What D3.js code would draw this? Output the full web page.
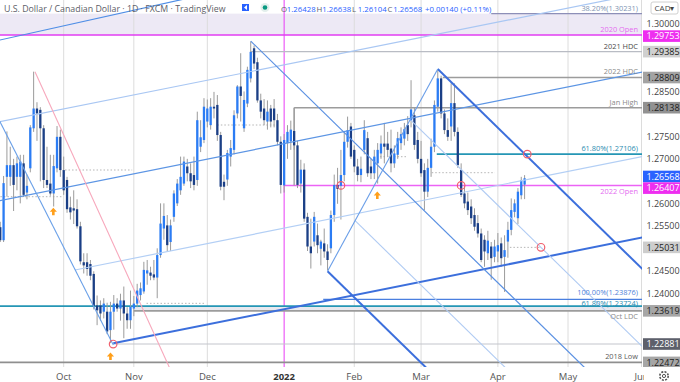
<!DOCTYPE html>
<html>
<head>
<meta charset="utf-8">
<script src="https://cdn.jsdelivr.net/npm/d3@7"></script>
<style>
  body { margin: 0; background: #fff; }
  svg { display: block; font-family: "Open Sans", "Noto Sans", sans-serif; }
</style>
</head>
<body>
<svg id="chart" width="680" height="382"></svg>
<script>
// daily USD/CAD bars, one per weekday from Mon 6 Sep 2021 to Wed 13 Apr 2022
const opens = [
  1.2548, 1.2519, 1.2660, 1.2660, 1.2686, 1.2660, 1.2660, 1.2690, 1.2625, 1.2679,
  1.2768, 1.2812, 1.2809, 1.2768, 1.2653, 1.2645, 1.2623, 1.2679, 1.2749, 1.2675,
  1.2653, 1.2592, 1.2590, 1.2588, 1.2550, 1.2470, 1.2470, 1.2466, 1.2444, 1.2374,
  1.2374, 1.2360, 1.2360, 1.2319, 1.2360, 1.2378, 1.2367, 1.2385, 1.2356, 1.2341,
  1.2367, 1.2378, 1.2397, 1.2405, 1.2445, 1.2447, 1.2443, 1.2436, 1.2486, 1.2545,
  1.2552, 1.2515, 1.2571, 1.2601, 1.2630, 1.2645, 1.2683, 1.2668, 1.2664, 1.2653,
  1.2727, 1.2742, 1.2783, 1.2775, 1.2816, 1.2820, 1.2753, 1.2649, 1.2654, 1.2705,
  1.2720, 1.2801, 1.2861, 1.2768, 1.2823, 1.2879, 1.2946, 1.2915, 1.2830, 1.2812,
  1.2783, 1.2812, 1.2812, 1.2786, 1.2738, 1.2641, 1.2735, 1.2739, 1.2762, 1.2730,
  1.2645, 1.2676, 1.2571, 1.2505, 1.2516, 1.2530, 1.2500, 1.2512, 1.2494, 1.2501,
  1.2575, 1.2642, 1.2640, 1.2664, 1.2738, 1.2772, 1.2720, 1.2683, 1.2664, 1.2720,
  1.2746, 1.2683, 1.2668, 1.2690, 1.2712, 1.2734, 1.2734, 1.2723, 1.2690, 1.2709,
  1.2735, 1.2745, 1.2775, 1.2785, 1.2797, 1.2742, 1.2700, 1.2675, 1.2627, 1.2680,
  1.2727, 1.2816, 1.2879, 1.2801, 1.2764, 1.2772, 1.2824, 1.2760, 1.2675, 1.2623,
  1.2605, 1.2594, 1.2575, 1.2557, 1.2534, 1.2520, 1.2490, 1.2505, 1.2482, 1.2494,
  1.2512, 1.2482, 1.2516, 1.2542, 1.2582, 1.2568, 1.2619, 1.26428
];
const highs = [
  1.2560, 1.2662, 1.2761, 1.2727, 1.2700, 1.2705, 1.2709, 1.2709, 1.2665, 1.2775,
  1.2894, 1.2826, 1.2815, 1.2775, 1.2727, 1.2709, 1.2709, 1.2773, 1.2765, 1.2705,
  1.2660, 1.2616, 1.2630, 1.2610, 1.2560, 1.2490, 1.2490, 1.2475, 1.2450, 1.2396,
  1.2385, 1.2390, 1.2380, 1.2382, 1.2397, 1.2390, 1.2400, 1.2416, 1.2370, 1.2407,
  1.2395, 1.2422, 1.2425, 1.2471, 1.2475, 1.2460, 1.2475, 1.2501, 1.2601, 1.2601,
  1.2575, 1.2565, 1.2630, 1.2655, 1.2705, 1.2705, 1.2700, 1.2690, 1.2705, 1.2805,
  1.2786, 1.2835, 1.2832, 1.2835, 1.2849, 1.2842, 1.2760, 1.2665, 1.2720, 1.2742,
  1.2808, 1.2864, 1.2935, 1.2850, 1.2905, 1.2961, 1.2952, 1.2925, 1.2845, 1.2833,
  1.2830, 1.2820, 1.2833, 1.2800, 1.2750, 1.2755, 1.2775, 1.2785, 1.2814, 1.2740,
  1.2698, 1.2690, 1.2580, 1.2567, 1.2582, 1.2556, 1.2520, 1.2545, 1.2510, 1.2585,
  1.2665, 1.2680, 1.2720, 1.2760, 1.2794, 1.2780, 1.2730, 1.2700, 1.2705, 1.2786,
  1.2760, 1.2700, 1.2720, 1.2735, 1.2752, 1.2780, 1.2760, 1.2765, 1.2730, 1.2760,
  1.2770, 1.2780, 1.2795, 1.2875, 1.2815, 1.2760, 1.2740, 1.2690, 1.2700, 1.2745,
  1.2830, 1.2898, 1.2885, 1.2810, 1.2790, 1.2868, 1.2868, 1.2770, 1.2690, 1.2640,
  1.2625, 1.2610, 1.2590, 1.2575, 1.2545, 1.2530, 1.2540, 1.2515, 1.2520, 1.2535,
  1.2525, 1.2530, 1.2560, 1.2612, 1.2610, 1.2635, 1.2660, 1.26638
];
const lows = [
  1.2515, 1.2515, 1.2616, 1.2640, 1.2584, 1.2630, 1.2601, 1.2615, 1.2610, 1.2670,
  1.2760, 1.2740, 1.2650, 1.2635, 1.2635, 1.2618, 1.2594, 1.2670, 1.2660, 1.2620,
  1.2580, 1.2565, 1.2555, 1.2545, 1.2465, 1.2445, 1.2440, 1.2430, 1.2365, 1.2330,
  1.2340, 1.2345, 1.2310, 1.2290, 1.2320, 1.2360, 1.2340, 1.2301, 1.2322, 1.2322,
  1.2350, 1.2370, 1.2385, 1.2400, 1.2420, 1.2430, 1.2430, 1.2390, 1.2480, 1.2520,
  1.2495, 1.2495, 1.2560, 1.2595, 1.2620, 1.2640, 1.2650, 1.2635, 1.2630, 1.2640,
  1.2715, 1.2735, 1.2770, 1.2765, 1.2790, 1.2740, 1.2630, 1.2608, 1.2640, 1.2683,
  1.2710, 1.2790, 1.2783, 1.2760, 1.2815, 1.2870, 1.2900, 1.2825, 1.2790, 1.2775,
  1.2765, 1.2770, 1.2770, 1.2730, 1.2623, 1.2625, 1.2700, 1.2720, 1.2720, 1.2635,
  1.2625, 1.2560, 1.2495, 1.2456, 1.2505, 1.2490, 1.2463, 1.2480, 1.2452, 1.2490,
  1.2560, 1.2600, 1.2565, 1.2650, 1.2725, 1.2700, 1.2670, 1.2650, 1.2648, 1.2710,
  1.2660, 1.2655, 1.2655, 1.2645, 1.2700, 1.2690, 1.2705, 1.2670, 1.2680, 1.2700,
  1.2720, 1.2730, 1.2740, 1.2770, 1.2720, 1.2690, 1.2660, 1.2586, 1.2615, 1.2660,
  1.2715, 1.2805, 1.2790, 1.2755, 1.2740, 1.2740, 1.2750, 1.2680, 1.2615, 1.2590,
  1.2575, 1.2555, 1.2540, 1.2525, 1.2470, 1.2460, 1.2475, 1.2431, 1.2470, 1.2470,
  1.2460, 1.2404, 1.2480, 1.2530, 1.2570, 1.2555, 1.2610, 1.26104
];
const closes = [
  1.2519, 1.2646, 1.2686, 1.2686, 1.2642, 1.2690, 1.2694, 1.2620, 1.2640, 1.2770,
  1.2812, 1.2801, 1.2768, 1.2653, 1.2642, 1.2623, 1.2684, 1.2749, 1.2675, 1.2630,
  1.2588, 1.2581, 1.2585, 1.2550, 1.2472, 1.2463, 1.2455, 1.2440, 1.2373, 1.2363,
  1.2356, 1.2378, 1.2316, 1.2360, 1.2378, 1.2367, 1.2385, 1.2356, 1.2341, 1.2371,
  1.2378, 1.2407, 1.2412, 1.2453, 1.2452, 1.2440, 1.2436, 1.2486, 1.2556, 1.2573,
  1.2508, 1.2552, 1.2623, 1.2645, 1.2660, 1.2694, 1.2668, 1.2650, 1.2642, 1.2786,
  1.2748, 1.2816, 1.2812, 1.2816, 1.2812, 1.2753, 1.2638, 1.2638, 1.2713, 1.2724,
  1.2797, 1.2861, 1.2840, 1.2831, 1.2898, 1.2938, 1.2912, 1.2830, 1.2805, 1.2786,
  1.2805, 1.2783, 1.2786, 1.2738, 1.2642, 1.2742, 1.2760, 1.2765, 1.2730, 1.2642,
  1.2676, 1.2567, 1.2505, 1.2490, 1.2571, 1.2508, 1.2516, 1.2494, 1.2475, 1.2575,
  1.2642, 1.2633, 1.2664, 1.2738, 1.2764, 1.2705, 1.2683, 1.2664, 1.2678, 1.2764,
  1.2668, 1.2668, 1.2705, 1.2720, 1.2734, 1.2727, 1.2720, 1.2690, 1.2712, 1.2746,
  1.2755, 1.2766, 1.2755, 1.2810, 1.2731, 1.2700, 1.2668, 1.2627, 1.2680, 1.2727,
  1.2820, 1.2879, 1.2801, 1.2764, 1.2749, 1.2824, 1.2760, 1.2686, 1.2620, 1.2601,
  1.2586, 1.2568, 1.2549, 1.2534, 1.2475, 1.2494, 1.2518, 1.2479, 1.2505, 1.2508,
  1.2479, 1.2497, 1.2542, 1.2586, 1.2601, 1.2627, 1.2653, 1.26568
];

const monthLabels = ['Oct', 'Nov', 'Dec', '2022', 'Feb', 'Mar', 'Apr', 'May', 'Jun'];
const priceTicks = d3.range(1.225, 1.3001, 0.005);

// horizontal levels: price, first bar index, right-hand label
const levels = [
  { key: 'fib382', price: 1.30231, from: 147, label: '38.20%(1.30231)' },
  { key: 'open2020', price: 1.29753, from: -2, label: '2020 Open' },
  { key: 'hdc2021', price: 1.29385, from: 75, label: '2021 HDC' },
  { key: 'hdc2022', price: 1.28809, from: 132.5, label: '2022 HDC' },
  { key: 'janHigh', price: 1.28138, from: 88, label: 'Jan High' },
  { key: 'fib618a', price: 1.27106, from: 130.7, label: '61.80%(1.27106)' },
  { key: 'open2022', price: 1.26407, from: 85, label: '2022 Open' },
  { key: 'fib100', price: 1.23876, from: 96.7, label: '100.00%(1.23876)' },
  { key: 'fib618b', price: 1.23724, from: -2, label: '61.80%(1.23724)' },
  { key: 'octLdc', price: 1.23619, from: 40, label: 'Oct LDC' },
  { key: 'low2021', price: 1.22881, from: 33.8, label: '' },
  { key: 'low2018', price: 1.22472, from: -2, label: '2018 Low' }
];

// dotted range remnants: price, from index, to index
const dottedLines = [
  [1.26158, -1, 18.5], [1.26752, 19.4, 39.5], [1.27753, 65, 83], [1.23786, 43.8, 61.3],
  [1.27048, 113.7, 121.8], [1.26692, 129.2, 148.1], [1.25031, 152.6, 161.9]
];

// channel / trend lines: two anchor points [index, price]
const trendLines = [
  { key: 'chanTop', a: [-0.07, 1.29644], b: [53.8, 1.30534] },
  { key: 'chanUpper', a: [-0.07, 1.27826], b: [192.1, 1.30683] },
  { key: 'chanMid', a: [-0.07, 1.26073], b: [192.1, 1.28930] },
  { key: 'chanLower', a: [22.4, 1.24527], b: [192.1, 1.27050] },
  { key: 'support', a: [33.85, 1.22897], b: [192.1, 1.25248] },
  { key: 'septDown', a: [-0.07, 1.27826], b: [33.85, 1.22859] },
  { key: 'pink', a: [10.4, 1.28940], b: [49.6, 1.22530] }
];

// pitchfork pivots: Dec high, Jan low, Mar high
const pivots = [[75, 1.2962], [98, 1.2450], [131, 1.2900]];

const circles = [[33.8, 1.2288], [102, 1.2641], [138, 1.2641], [157.8, 1.27106], [161.9, 1.25032]];
const arrows = [[15.9, 1.2590], [33, 1.2268], [112.9, 1.2626]];

const lastPrice = 1.26568;
const legend = [['O', '1.26428'], ['H', '1.26638'], ['L', '1.26104'], ['C', '1.26568']];
const change = '+0.00140 (+0.11%)';

// price-scale tags; shift nudges a tag off its neighbour the way the platform does
const tags = [
  { price: 1.29753, bg: '#ee2ef0', fg: '#fff', shift: 1 },
  { price: 1.29385, bg: '#d0d0d0', fg: '#222', shift: 0 },
  { price: 1.28809, bg: '#a3a3a3', fg: '#222', shift: 0 },
  { price: 1.28138, bg: '#929292', fg: '#222', shift: 0 },
  { price: lastPrice, bg: '#2962ff', fg: '#fff', shift: -1.8 },
  { price: 1.26407, bg: '#ee2ef0', fg: '#fff', shift: 2.6 },
  { price: 1.25031, bg: '#cdcdcd', fg: '#222', shift: 0 },
  { price: 1.23619, bg: '#a6a6a6', fg: '#222', shift: 0 },
  { price: 1.22881, bg: '#5d606b', fg: '#fff', shift: 0 },
  { price: 1.22472, bg: '#a6a6a6', fg: '#222', shift: 0 }
];

const plotW = 642, plotH = 367;
const svg = d3.select('#chart');
const x = d3.scaleLinear().domain([0, 192]).range([0.24, 641.5]);
const y = d3.scaleLinear().domain([1.22472, 1.30]).range([362.4, 24]);

// weekday calendar so month ticks land on the first bar of each month
const monthStarts = [];
{
  let d = new Date(2021, 8, 6), idx = 0, lastMonth = d.getMonth();
  while (idx < 200) {
    const wd = d.getDay();
    if (wd !== 0 && wd !== 6) {
      if (d.getMonth() !== lastMonth) { monthStarts.push(idx); lastMonth = d.getMonth(); }
      idx++;
    }
    d = d3.timeDay.offset(d, 1);
  }
}

svg.append('rect').attr('width', 680).attr('height', 382).attr('fill', '#fff');
const defs = svg.append('defs');
defs.append('clipPath').attr('id', 'plot')
  .append('rect').attr('width', plotW).attr('height', plotH);
defs.append('clipPath').attr('id', 'timeClip')
  .append('rect').attr('x', 0).attr('y', plotH).attr('width', 644).attr('height', 20);
const plot = svg.append('g').attr('clip-path', 'url(#plot)');

// band between 38.2% and 2020 open
plot.append('rect')
  .attr('x', 0).attr('width', plotW)
  .attr('y', y(1.30231)).attr('height', y(1.29753) - y(1.30231))
  .attr('fill', '#ede9f5');

// vertical month grid
monthLabels.forEach((m, k) => {
  plot.append('line')
    .attr('x1', x(monthStarts[k])).attr('x2', x(monthStarts[k]))
    .attr('y1', 0).attr('y2', plotH)
    .attr('stroke', m === '2022' ? '#e83cf5' : '#dcdcdc')
    .attr('stroke-width', 1);
});

// Oct LDC shaded strip
plot.append('rect')
  .attr('x', x(40)).attr('width', plotW)
  .attr('y', y(1.23724)).attr('height', y(1.23619) - y(1.23724))
  .attr('fill', '#e9e9ef');

const levelStyle = {
  fib382: ['#8d8fb8', 1.2], open2020: ['#e23cf2', 1.5], hdc2021: ['#b9bcc4', 1.2],
  hdc2022: ['#9c9c9c', 1.6], janHigh: ['#9c9c9c', 1.6], fib618a: ['#2596b5', 1.6],
  open2022: ['#ec63f5', 1.4], fib100: ['#4a7fe0', 1.2], fib618b: ['#2596b5', 1.6],
  octLdc: ['#9c9c9c', 1.6], low2021: ['#c3c5cc', 1], low2018: ['#8f8f8f', 1.8]
};
const labelStyle = {
  fib382: ['#7d93b2', 11], open2020: ['#e46cf0', 32], hdc2021: ['#4a4a4a', 48.5],
  hdc2022: ['#8a8a8a', 74], janHigh: ['#8a8a8a', 104.5], fib618a: ['#2b8cb0', 151],
  open2022: ['#e46cf0', 194], fib100: ['#4f7fd8', 295], fib618b: ['#2b8cb0', 305.6],
  octLdc: ['#8a8a8a', 319], low2018: ['#5a5a5a', 359]
};

// dotted remnants
dottedLines.forEach(([p, a, b]) => {
  plot.append('line')
    .attr('x1', x(a)).attr('x2', x(b)).attr('y1', y(p)).attr('y2', y(p))
    .attr('stroke', '#b5b5b5').attr('stroke-dasharray', '1.5,2');
});

levels.forEach((l) => {
  const [c, w] = levelStyle[l.key];
  plot.append('line')
    .attr('x1', x(l.from)).attr('x2', plotW)
    .attr('y1', y(l.price)).attr('y2', y(l.price))
    .attr('stroke', c).attr('stroke-width', w);
});
// Jan high box edge
plot.append('line')
  .attr('x1', x(88)).attr('x2', x(88))
  .attr('y1', y(1.28138)).attr('y2', y(1.26407))
  .attr('stroke', '#9c9c9c').attr('stroke-width', 1.3);

// candles
const bars = d3.range(opens.length).map((i) => ({ i, o: opens[i], h: highs[i], l: lows[i], c: closes[i] }));
const candle = plot.append('g').selectAll('g').data(bars).join('g');
candle.append('line')
  .attr('x1', (d) => x(d.i)).attr('x2', (d) => x(d.i))
  .attr('y1', (d) => y(d.h)).attr('y2', (d) => y(d.l))
  .attr('stroke', '#9b9b9b').attr('stroke-width', 1);
candle.append('rect')
  .attr('x', (d) => x(d.i) - 1.15).attr('width', 2.3)
  .attr('y', (d) => y(Math.max(d.o, d.c)))
  .attr('height', (d) => Math.max(1, Math.abs(y(d.o) - y(d.c))))
  .attr('fill', (d) => (d.c >= d.o ? '#2b7cf4' : '#1b3f86'));

// trend lines (extended through both anchors)
const lineStyle = {
  chanTop: ['#4f8ee6', 1.2], chanUpper: ['#a9c7f3', 1.2], chanMid: ['#5c95e4', 1.2],
  chanLower: ['#b3cff5', 1.2], support: ['#3c6fdc', 2], septDown: ['#6aa0e8', 1.1],
  pink: ['#f7a8bc', 1.1]
};
const extendLeft = { chanTop: true, chanUpper: true, chanMid: true, septDown: true };
trendLines.forEach((t) => {
  const [ax, ay] = [x(t.a[0]), y(t.a[1])];
  const [bx, by] = [x(t.b[0]), y(t.b[1])];
  const s = (by - ay) / (bx - ax);
  const x0 = extendLeft[t.key] ? -20 : ax;
  const x1 = t.key === 'septDown' ? bx : 700;
  const [c, w] = lineStyle[t.key];
  plot.append('line')
    .attr('x1', x0).attr('y1', ay + s * (x0 - ax))
    .attr('x2', x1).attr('y2', ay + s * (x1 - ax))
    .attr('stroke', c).attr('stroke-width', w);
});

// pitchfork
{
  const [p1, p2, p3] = pivots.map(([i, p]) => [x(i), y(p)]);
  const m = [(p2[0] + p3[0]) / 2, (p2[1] + p3[1]) / 2];
  const dir = [m[0] - p1[0], m[1] - p1[1]];
  const ray = (s, color, w) => plot.append('line')
    .attr('x1', s[0]).attr('y1', s[1])
    .attr('x2', s[0] + dir[0] * 4).attr('y2', s[1] + dir[1] * 4)
    .attr('stroke', color).attr('stroke-width', w);
  const along = (t) => [p2[0] + (p3[0] - p2[0]) * t, p2[1] + (p3[1] - p2[1]) * t];
  ray(along(0.25), '#b0cbf3', 1.1);
  ray(along(0.75), '#b0cbf3', 1.1);
  ray(p1, '#5a90e2', 1.2);
  ray(p2, '#3c6fdc', 2);
  ray(p3, '#3c6fdc', 2);
  plot.append('line')
    .attr('x1', p2[0]).attr('y1', p2[1]).attr('x2', p3[0]).attr('y2', p3[1])
    .attr('stroke', '#6a9ee8').attr('stroke-width', 1.1);
}

// circles and arrows
plot.selectAll('circle.mark').data(circles).join('circle')
  .attr('cx', (d) => x(d[0])).attr('cy', (d) => y(d[1])).attr('r', 3.8)
  .attr('fill', 'none').attr('stroke', '#f0606e').attr('stroke-width', 1.2);
plot.selectAll('path.arrow').data(arrows).join('path')
  .attr('transform', (d) => `translate(${x(d[0])},${y(d[1])})`)
  .attr('d', 'M0,-0.5 L3.6,3.5 L1.3,3.5 L1.3,7 L-1.3,7 L-1.3,3.5 L-3.6,3.5 Z')
  .attr('fill', '#ff9f1a');

// level labels
levels.filter((l) => l.label).forEach((l) => {
  const [c, yy] = labelStyle[l.key];
  svg.append('text')
    .attr('x', 638).attr('y', yy).attr('text-anchor', 'end')
    .attr('font-size', 7.4).attr('fill', c).text(l.label);
});

// price scale: plain ticks where no tag covers them, then the tags
const axis = svg.append('g');
axis.append('rect').attr('x', plotW).attr('width', 680 - plotW).attr('height', 382).attr('fill', '#fff');
const freeTicks = priceTicks.filter((p) => tags.every((t) => Math.abs(y(p) - y(t.price)) > 11));
axis.selectAll('text.tick').data(freeTicks).join('text')
  .attr('x', 663).attr('y', (d) => y(d) + 3.2)
  .attr('text-anchor', 'middle').attr('font-size', 9).attr('fill', '#444')
  .text((d) => d.toFixed(5));
tags.forEach((t) => {
  const cy = y(t.price) + t.shift;
  axis.append('rect').attr('x', plotW + 1).attr('y', cy - 5.8).attr('width', 680 - plotW).attr('height', 11.6).attr('fill', t.bg);
  axis.append('text').attr('x', 663).attr('y', cy + 3.2).attr('text-anchor', 'middle')
    .attr('font-size', 9).attr('fill', t.fg).text(t.price.toFixed(5));
});
axis.append('rect').attr('x', 651).attr('y', 2).attr('width', 27).attr('height', 12)
  .attr('rx', 2).attr('fill', '#fff').attr('stroke', '#d0d0d0');
axis.append('text').attr('x', 664.5).attr('y', 11).attr('text-anchor', 'middle')
  .attr('font-size', 8).attr('fill', '#444').text('CAD▾');

// time axis
const timeAxis = svg.append('g');
timeAxis.append('rect').attr('y', plotH).attr('width', 680).attr('height', 382 - plotH).attr('fill', '#fff');
timeAxis.append('g').attr('clip-path', 'url(#timeClip)')
  .selectAll('text').data(monthLabels).join('text')
  .attr('x', (d, k) => x(monthStarts[k])).attr('y', 380)
  .attr('text-anchor', 'middle').attr('font-size', 9.5)
  .attr('font-weight', (d) => (d === '2022' ? 'bold' : 'normal'))
  .attr('fill', (d) => (d === '2022' ? '#333' : '#555'))
  .text((d) => d);
// settings gear
const gear = svg.append('g').attr('transform', 'translate(664,376)');
gear.append('circle').attr('r', 4.2).attr('fill', 'none').attr('stroke', '#555').attr('stroke-width', 1.6).attr('stroke-dasharray', '2,1.3');
gear.append('circle').attr('r', 1.6).attr('fill', 'none').attr('stroke', '#555').attr('stroke-width', 1);

// header
svg.append('text').attr('x', 4).attr('y', 12).attr('font-size', 8.8)
  .attr('fill', '#5d6068').text('U.S. Dollar / Canadian Dollar · 1D · FXCM · TradingView');
svg.append('path').attr('d', 'M242,4 h7 v7 h-7 Z M244,7.5 l3,-2.5 v5 Z').attr('fill', '#2962ff').attr('fill-rule', 'evenodd');
svg.append('circle').attr('cx', 265).attr('cy', 7.5).attr('r', 4.5).attr('fill', '#e3efec');
svg.append('circle').attr('cx', 265).attr('cy', 7.5).attr('r', 2.3).attr('fill', '#089981');
legend.forEach(([k, v], n) => {
  const x0 = 281 + n * 35.5;
  svg.append('text').attr('x', x0).attr('y', 12).attr('font-size', 7.8)
    .attr('fill', '#5d6068').text(k);
  svg.append('text').attr('x', x0 + 5.8).attr('y', 12).attr('font-size', 7.8)
    .attr('fill', '#2962ff').text(v);
});
svg.append('text').attr('x', 425).attr('y', 12).attr('font-size', 7.8)
  .attr('fill', '#2962ff').text(change);
</script>
</body>
</html>
